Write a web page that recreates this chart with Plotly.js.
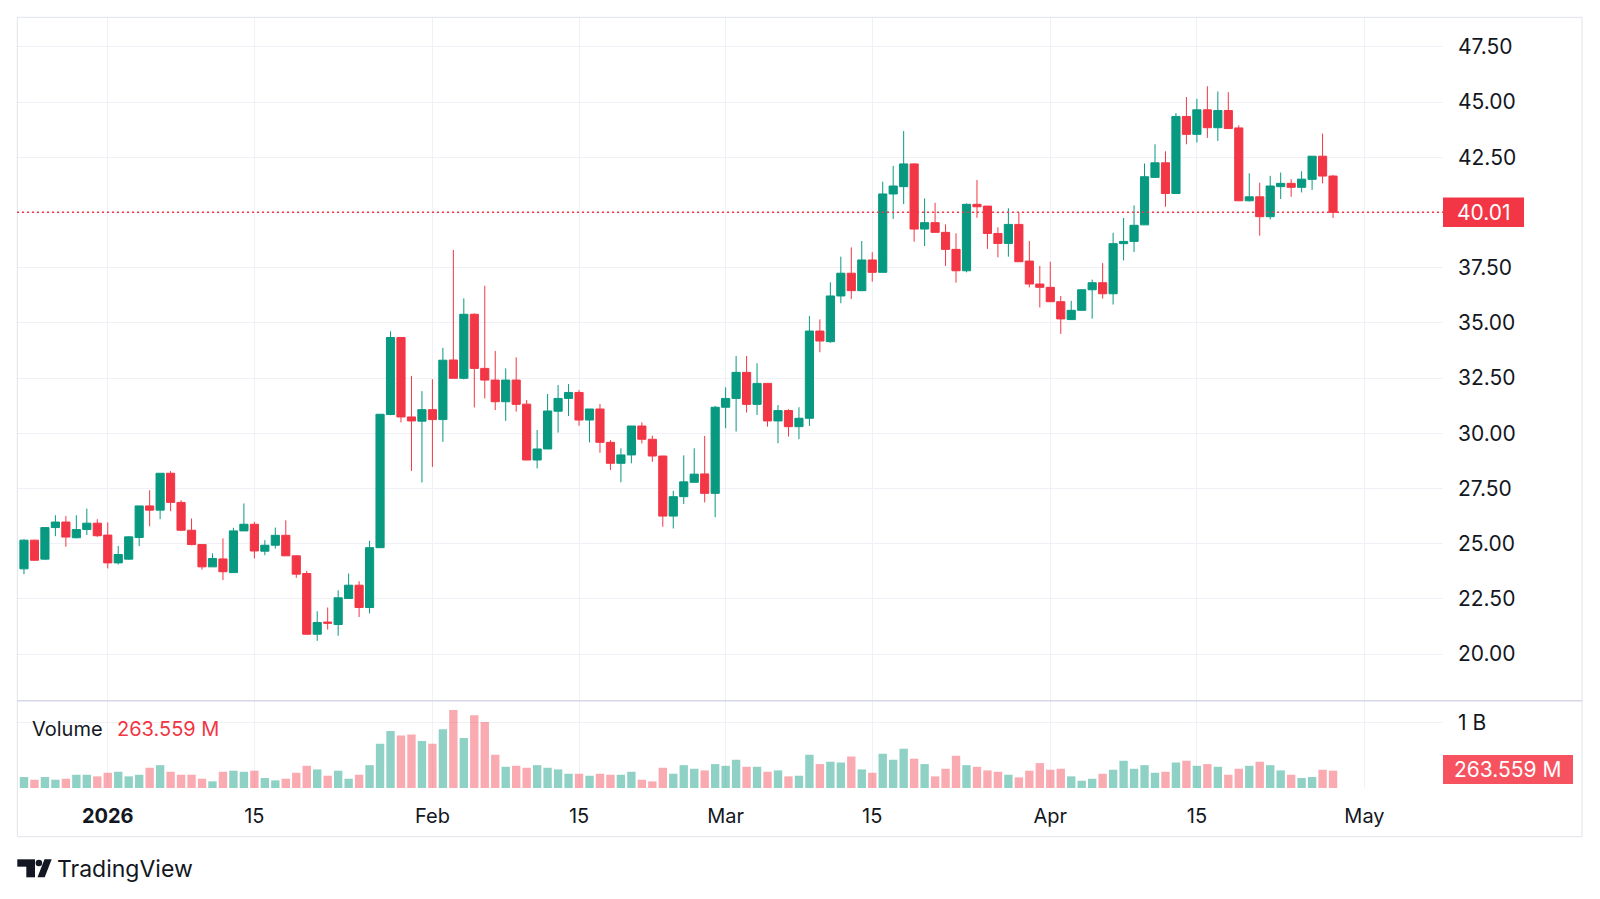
<!DOCTYPE html>
<html>
<head>
<meta charset="utf-8">
<script src="https://cdn.plot.ly/plotly-3.0.1.min.js"></script>
<style>
html,body{margin:0;padding:0;background:#ffffff;}
#chart{width:1600px;height:899px;}
</style>
</head>
<body>
<div id="chart"></div>
<script>
// ---------- DATA ----------
const dates = [
 '2025-12-24','2025-12-25','2025-12-26','2025-12-27','2025-12-28','2025-12-29','2025-12-30','2025-12-31',
 '2026-01-01','2026-01-02','2026-01-03','2026-01-04','2026-01-05','2026-01-06','2026-01-07','2026-01-08','2026-01-09','2026-01-10',
 '2026-01-11','2026-01-12','2026-01-13','2026-01-14','2026-01-15','2026-01-16','2026-01-17','2026-01-18','2026-01-19','2026-01-20',
 '2026-01-21','2026-01-22','2026-01-23','2026-01-24','2026-01-25','2026-01-26','2026-01-27','2026-01-28','2026-01-29','2026-01-30','2026-01-31',
 '2026-02-01','2026-02-02','2026-02-03','2026-02-04','2026-02-05','2026-02-06','2026-02-07','2026-02-08','2026-02-09','2026-02-10',
 '2026-02-11','2026-02-12','2026-02-13','2026-02-14','2026-02-15','2026-02-16','2026-02-17','2026-02-18','2026-02-19','2026-02-20',
 '2026-02-21','2026-02-22','2026-02-23','2026-02-24','2026-02-25','2026-02-26','2026-02-27','2026-02-28',
 '2026-03-01','2026-03-02','2026-03-03','2026-03-04','2026-03-05','2026-03-06','2026-03-07','2026-03-08','2026-03-09','2026-03-10',
 '2026-03-11','2026-03-12','2026-03-13','2026-03-14','2026-03-15','2026-03-16','2026-03-17','2026-03-18','2026-03-19','2026-03-20',
 '2026-03-21','2026-03-22','2026-03-23','2026-03-24','2026-03-25','2026-03-26','2026-03-27','2026-03-28','2026-03-29','2026-03-30','2026-03-31',
 '2026-04-01','2026-04-02','2026-04-03','2026-04-04','2026-04-05','2026-04-06','2026-04-07','2026-04-08','2026-04-09','2026-04-10',
 '2026-04-11','2026-04-12','2026-04-13','2026-04-14','2026-04-15','2026-04-16','2026-04-17','2026-04-18','2026-04-19','2026-04-20',
 '2026-04-21','2026-04-22','2026-04-23','2026-04-24','2026-04-25','2026-04-26','2026-04-27','2026-04-28'
];

const openPrices = [
 23.86,25.16,24.30,25.73,25.98,25.27,25.64,25.93,25.39,24.13,
 24.30,25.28,26.71,26.52,28.19,26.87,25.61,24.96,23.95,24.31,
 23.69,25.58,25.88,24.66,24.93,25.38,24.45,23.65,20.90,21.45,
 21.34,22.52,23.12,22.11,24.82,30.85,34.34,30.74,30.55,31.07,
 30.62,33.32,32.49,35.39,32.94,32.41,31.43,32.41,31.32,28.79,
 29.29,31.00,31.58,31.85,30.60,31.10,29.59,28.64,29.02,30.33,
 29.73,28.97,26.25,27.13,27.78,28.16,27.28,31.18,31.58,32.76,
 31.31,32.26,30.56,31.03,30.30,30.68,34.63,34.15,36.22,37.25,
 36.46,37.85,37.29,40.84,41.17,42.20,39.25,39.54,39.10,38.33,
 37.36,40.37,40.29,39.05,38.60,39.46,37.80,36.76,36.61,35.96,
 35.15,35.57,36.50,36.82,36.32,38.59,38.69,39.44,41.59,42.25,
 40.86,44.35,43.54,44.65,43.84,44.62,43.83,40.53,40.71,39.81,
 41.17,41.32,41.14,41.50,42.55,41.65
];
const highPrices = [
 25.20,25.18,25.75,26.29,26.25,26.29,26.59,26.11,25.96,24.90,
 25.34,26.71,27.42,28.20,28.29,26.97,26.14,24.98,24.56,25.24,
 25.72,26.82,25.99,25.16,25.73,26.06,24.47,23.77,21.94,22.11,
 22.89,23.65,23.30,25.13,30.88,34.62,34.36,32.60,31.91,32.45,
 33.87,38.30,36.11,35.43,36.68,33.73,32.94,33.44,31.51,30.15,
 31.78,32.19,32.23,31.96,31.10,31.33,29.69,29.32,30.33,30.50,
 29.89,28.98,27.39,29.00,29.32,29.88,31.24,32.08,33.50,33.50,
 33.17,32.27,31.28,31.09,31.18,35.31,35.16,36.84,38.00,38.42,
 38.71,38.20,41.40,42.11,43.69,42.23,40.64,40.44,39.46,39.06,
 40.41,41.47,40.29,39.33,40.19,39.99,38.71,37.58,37.77,36.22,
 36.00,36.53,36.96,37.71,39.08,39.75,40.32,42.22,43.09,42.77,
 44.50,45.23,45.15,45.72,45.48,45.45,43.95,41.77,41.35,41.66,
 41.81,41.51,41.87,42.55,43.57,41.70
];
const lowPrices = [
 23.62,24.22,24.28,25.34,24.86,25.24,25.39,25.31,23.88,24.06,
 24.28,24.89,25.79,26.11,26.47,25.57,24.93,23.83,23.95,23.35,
 23.69,25.58,24.33,24.48,24.78,24.45,23.45,20.87,20.60,21.11,
 20.83,22.50,21.68,21.84,24.80,30.82,30.49,28.30,27.77,28.48,
 29.61,32.49,32.44,31.17,31.58,31.05,30.56,30.98,28.79,28.41,
 29.29,30.03,30.78,30.34,29.59,29.12,28.34,27.78,28.64,29.54,
 28.71,25.77,25.69,26.80,27.78,26.87,26.20,30.23,30.08,30.94,
 30.83,30.30,29.55,29.85,29.73,30.33,33.67,34.10,35.89,36.08,
 36.44,36.87,37.29,39.71,40.38,38.68,38.48,39.10,37.58,36.82,
 37.29,39.76,38.35,37.97,38.00,37.77,36.61,35.70,35.96,34.50,
 35.15,35.55,35.19,36.10,35.83,37.83,38.21,39.44,41.59,40.26,
 40.86,43.09,43.17,43.38,43.24,43.80,40.53,40.50,38.95,39.69,
 40.61,40.71,40.91,41.02,41.32,39.75
];
const closePrices = [
 25.16,24.25,25.73,25.98,25.30,25.64,25.93,25.36,24.13,24.51,
 25.31,26.71,26.52,28.19,26.87,25.61,24.96,23.95,24.33,23.73,
 25.58,25.88,24.67,24.93,25.38,24.45,23.62,20.90,21.43,21.40,
 22.55,23.12,22.11,24.82,30.86,34.34,30.74,30.56,31.07,30.62,
 33.31,32.49,35.39,32.94,32.41,31.43,32.41,31.31,28.79,29.29,
 31.01,31.58,31.85,30.60,31.10,29.59,28.64,29.02,30.33,29.73,
 28.97,26.25,27.13,27.80,28.15,27.28,31.18,31.58,32.76,31.31,
 32.26,30.56,31.03,30.30,30.68,34.63,34.18,36.22,37.25,36.46,
 37.85,37.29,40.84,41.20,42.20,39.25,39.54,39.10,38.33,37.36,
 40.37,40.26,39.05,38.60,39.46,37.77,36.76,36.61,35.96,35.18,
 35.57,36.50,36.82,36.32,38.59,38.69,39.42,41.62,42.25,40.86,
 44.35,43.54,44.65,43.84,44.62,43.80,40.53,40.71,39.81,41.20,
 41.32,41.14,41.51,42.55,41.65,40.01
];
// volume in billions
const volumeB = [
 0.167,0.126,0.167,0.126,0.141,0.202,0.202,0.177,0.232,0.247,
 0.177,0.202,0.308,0.348,0.247,0.202,0.202,0.141,0.101,0.247,
 0.263,0.247,0.263,0.152,0.116,0.141,0.232,0.338,0.283,0.187,
 0.263,0.141,0.202,0.348,0.672,0.869,0.798,0.813,0.717,0.672,
 0.894,1.187,0.763,1.106,1.005,0.505,0.323,0.338,0.308,0.348,
 0.308,0.283,0.217,0.217,0.187,0.217,0.202,0.202,0.247,0.126,
 0.101,0.308,0.217,0.348,0.293,0.268,0.364,0.338,0.429,0.323,
 0.323,0.247,0.268,0.177,0.187,0.505,0.364,0.399,0.389,0.480,
 0.283,0.232,0.520,0.429,0.596,0.444,0.364,0.177,0.293,0.490,
 0.348,0.323,0.268,0.247,0.202,0.162,0.263,0.379,0.278,0.293,
 0.177,0.111,0.141,0.217,0.278,0.414,0.293,0.348,0.232,0.247,
 0.389,0.414,0.338,0.364,0.323,0.202,0.293,0.338,0.399,0.348,
 0.268,0.202,0.152,0.167,0.278,0.263559
];

const timeTickVals = ['2026-01-01','2026-01-15','2026-02-01','2026-02-15','2026-03-01','2026-03-15','2026-04-01','2026-04-15','2026-05-01'];
const timeTickText = ['<b>2026</b>','15','Feb','15','Mar','15','Apr','15','May'];
const priceTickVals = [20,22.5,25,27.5,30,32.5,35,37.5,40,42.5,45,47.5];
const volumeTickVals = [1e9];
const volumeTickText = ['1 B'];
const lastPriceText = '40.01';
const lastVolumeText = '263.559 M';
const volumeLabel = 'Volume';
const brandText = 'TradingView';

// ---------- STYLE / LAYOUT ----------
const UP = '#089981', DOWN = '#F23645';
const UPV = 'rgba(8,153,129,0.45)', DOWNV = 'rgba(242,54,69,0.42)';
const FONT = 'Inter, "Noto Sans", sans-serif';
const TXT = '#131722';
const GRID = '#EFF1F6';

const W = 1600, H = 899;
const L = 17, R = 157, T = 17, B = 111;
const plotW = W - L - R, plotH = H - T - B;
const px = x => (x - L) / plotW;
const py = y => (H - B - y) / plotH;

const volVals = volumeB.map(v => v * 1e9);
const volColors = closePrices.map((c, i) => c >= openPrices[i] ? UPV : DOWNV);
const volDomainTop = py(700.7);

const lastClose = closePrices[closePrices.length - 1];
const lastVol = volVals[volVals.length - 1];
const pxPerUnit = 22.08;
// the tick label hidden under the last-price box is left blank (gridline kept)
const priceTickText = priceTickVals.map(v => Math.abs(v - lastClose) < 0.6 ? '' : v.toFixed(2));

const candle = {
  type: 'candlestick', x: dates, open: openPrices, high: highPrices, low: lowPrices, close: closePrices,
  xaxis: 'x', yaxis: 'y',
  increasing: {line: {color: UP, width: 1}, fillcolor: UP},
  decreasing: {line: {color: DOWN, width: 1}, fillcolor: DOWN},
  whiskerwidth: 0, hoverinfo: 'skip', showlegend: false
};
const vol = {
  type: 'bar', x: dates, y: volVals, xaxis: 'x', yaxis: 'y2',
  marker: {color: volColors, line: {width: 0}}, hoverinfo: 'skip', showlegend: false
};

const layout = {
  width: W, height: H,
  margin: {l: L, r: R, t: T, b: B, pad: 0},
  paper_bgcolor: '#ffffff', plot_bgcolor: '#ffffff',
  font: {family: FONT, color: TXT, size: 20},
  showlegend: false,
  boxgap: 0.22, boxgroupgap: 0, bargap: 0.2,
  xaxis: {
    type: 'date', anchor: 'y2',
    range: ['2025-12-23 08:00', '2026-05-08 12:00'],
    rangeslider: {visible: false},
    tickmode: 'array', tickvals: timeTickVals, ticktext: timeTickText,
    showgrid: true, gridcolor: GRID, gridwidth: 1,
    zeroline: false, showline: false, ticks: '',
    tickfont: {family: FONT, size: 20, color: TXT},
    ticklabelstandoff: 14, fixedrange: true
  },
  yaxis: {
    domain: [volDomainTop, 1], side: 'right', anchor: 'x',
    range: [17.889, 48.854],
    tickmode: 'array', tickvals: priceTickVals, ticktext: priceTickText,
    showgrid: true, gridcolor: GRID, gridwidth: 1,
    zeroline: false, showline: false, ticks: '',
    tickfont: {family: FONT, size: 21, color: TXT},
    ticklabelstandoff: 14, fixedrange: true
  },
  yaxis2: {
    domain: [0, volDomainTop], side: 'right', anchor: 'x',
    range: [0, 1.329e9],
    tickmode: 'array', tickvals: volumeTickVals, ticktext: volumeTickText,
    showgrid: true, gridcolor: GRID, gridwidth: 1,
    zeroline: false, showline: false, ticks: '',
    tickfont: {family: FONT, size: 21, color: TXT},
    ticklabelstandoff: 14, fixedrange: true
  },
  shapes: [
    // outer frame
    {type: 'rect', xref: 'paper', yref: 'paper', x0: px(17.3), x1: px(1582), y0: py(836.7), y1: py(17.3),
     line: {color: '#E0E3EB', width: 1}, fillcolor: 'rgba(0,0,0,0)', layer: 'above'},
    // pane separator
    {type: 'line', xref: 'paper', yref: 'paper', x0: px(17.3), x1: px(1582), y0: volDomainTop, y1: volDomainTop,
     line: {color: '#D6D8E6', width: 1.5}},
    // last price dotted line
    {type: 'line', xref: 'paper', yref: 'y', x0: 0, x1: 1, y0: lastClose, y1: lastClose,
     line: {color: DOWN, width: 1.5, dash: '2px,3px'}},
    // last price box
    {type: 'rect', xref: 'paper', yref: 'y', x0: 1, x1: px(1524), y0: lastClose - 14.7 / pxPerUnit, y1: lastClose + 14.7 / pxPerUnit,
     line: {width: 0}, fillcolor: DOWN},
    // last volume box
    {type: 'rect', xref: 'paper', yref: 'paper', x0: 1, x1: px(1573), y0: py(784), y1: py(755),
     line: {width: 0}, fillcolor: '#F7525F'},
    // logo: T bar
    {type: 'rect', xref: 'paper', yref: 'paper', x0: px(17.3), x1: px(35), y0: py(866.7), y1: py(859.3),
     line: {width: 0}, fillcolor: TXT},
    {type: 'rect', xref: 'paper', yref: 'paper', x0: px(26.3), x1: px(35), y0: py(877.3), y1: py(866),
     line: {width: 0}, fillcolor: TXT},
    // logo: dot
    {type: 'circle', xref: 'paper', yref: 'paper', x0: px(35.6), x1: px(42.2), y0: py(866.3), y1: py(859.7),
     line: {width: 0}, fillcolor: TXT},
    // logo: slash
    {type: 'path', xref: 'paper', yref: 'paper',
     path: 'M ' + px(37.5) + ' ' + py(877.3) + ' L ' + px(44.5) + ' ' + py(859.3) + ' L ' + px(51.7) + ' ' + py(859.3) + ' L ' + px(44.7) + ' ' + py(877.3) + ' Z',
     line: {width: 0}, fillcolor: TXT}
  ],
  annotations: [
    {xref: 'paper', yref: 'y', x: px(1483.5), y: lastClose, text: lastPriceText, showarrow: false,
     xanchor: 'center', yanchor: 'middle', font: {family: FONT, size: 21, color: '#ffffff'}},
    {xref: 'paper', yref: 'paper', x: px(1508), y: py(769.5), text: lastVolumeText, showarrow: false,
     xanchor: 'center', yanchor: 'middle', font: {family: FONT, size: 21, color: '#ffffff'}},
    {xref: 'paper', yref: 'paper', x: px(30), y: py(729), text: volumeLabel, showarrow: false,
     xanchor: 'left', yanchor: 'middle', font: {family: FONT, size: 20, color: TXT}},
    {xref: 'paper', yref: 'paper', x: px(115), y: py(729), text: lastVolumeText, showarrow: false,
     xanchor: 'left', yanchor: 'middle', font: {family: FONT, size: 20, color: DOWN}},
    {xref: 'paper', yref: 'paper', x: px(55), y: py(868.5), text: brandText, showarrow: false,
     xanchor: 'left', yanchor: 'middle', font: {family: FONT, size: 23, color: TXT}}
  ]
};

Plotly.newPlot('chart', [vol, candle], layout, {displayModeBar: false, staticPlot: true});
</script>
</body>
</html>
